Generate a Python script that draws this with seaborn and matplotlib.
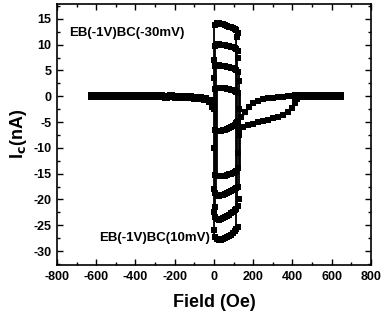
import matplotlib
matplotlib.use("Agg")
import matplotlib.pyplot as plt
import seaborn as sns
from matplotlib.ticker import MultipleLocator

# left branch, I = 0 from -620 Oe up to zero field
left_h = [-620, -595, -570, -545, -520, -495, -470, -445, -420, -395, -370, -345,
          -320, -295, -270, -245, -220, -195, -170, -145, -120, -95, -70, -45, -20, -5]
left_i = [0.1, 0.0, 0.1, 0.0, 0.1, 0.1, 0.0, 0.1, 0.0, 0.0, 0.1, 0.0,
          0.0, 0.0, 0.0, -0.1, 0.0, -0.1, -0.1, -0.1, -0.2, -0.3, -0.4, -0.6, -1.0, -1.8]

# right branch, I = 0 out to 640 Oe
right_h = [420, 445, 470, 495, 520, 545, 570, 595, 620, 640]
right_i = [0.0, 0.0, 0.0, 0.0, 0.0, 0.0, 0.0, 0.0, 0.0, 0.0]

# small loop between 130 and 420 Oe
loop_lo_h = [130, 150, 175, 200, 225, 250, 275, 300, 325, 350, 375, 400, 415, 425]
loop_lo_i = [-6.5, -6.0, -5.6, -5.3, -5.0, -4.8, -4.6, -4.3, -4.0, -3.6, -3.0, -2.2, -1.4, -0.5]
loop_up_h = [425, 400, 375, 350, 325, 300, 275, 250, 225, 200, 180, 160, 140, 120]
loop_up_i = [0.0, 0.0, 0.0, -0.1, -0.2, -0.3, -0.4, -0.6, -0.9, -1.4, -2.1, -3.0, -4.0, -5.0]

# step levels of the loops in the 0..130 Oe window
step_h = [5, 15, 25, 35, 45, 55, 65, 75, 85, 95, 105, 115, 125]
upper_levels = {
    "u1": [13.8, 14.2, 14.1, 14.0, 13.9, 13.8, 13.6, 13.5, 13.4, 13.2, 13.0, 12.8, 12.3],
    "u2": [9.8, 10.1, 10.1, 10.0, 9.9, 9.9, 9.8, 9.7, 9.6, 9.5, 9.3, 9.1, 8.7],
    "u3": [5.8, 6.0, 6.0, 5.9, 5.9, 5.8, 5.7, 5.6, 5.5, 5.4, 5.2, 5.0, 4.6],
    "u4": [1.4, 1.6, 1.6, 1.6, 1.5, 1.5, 1.4, 1.4, 1.3, 1.2, 1.1, 0.9, 0.6],
}
lower_levels = {
    "l1": [-6.6, -6.8, -6.8, -6.7, -6.6, -6.5, -6.4, -6.2, -6.0, -5.8, -5.5, -5.2, -4.8],
    "l2": [-15.2, -15.4, -15.5, -15.5, -15.4, -15.4, -15.3, -15.1, -15.0, -14.8, -14.6, -14.4, -14.0],
    "l3": [-18.8, -19.2, -19.3, -19.2, -19.1, -19.0, -18.8, -18.6, -18.4, -18.2, -18.0, -17.8, -17.5],
    "l4": [-23.5, -23.8, -23.9, -23.8, -23.6, -23.4, -23.2, -23.0, -22.7, -22.4, -22.1, -21.8, -21.3],
    "l5": [-27.2, -27.6, -27.8, -27.8, -27.7, -27.5, -27.3, -27.0, -26.8, -26.5, -26.2, -25.8, -25.3],
}
# vertical switching fields and the range they span
switch_h = [0, 4, 8, 12, 110, 118, 126, 132]
switch_top = [14.0, 10.0, 6.0, 1.5, 12.5, 9.0, 5.0, 1.0]
switch_bot = [-27.5, -23.8, -19.2, -15.4, -25.3, -21.5, -17.5, -14.0]

# scattered points sitting on the switching branches
vert_h = [0, 0, 2, 0, 0, 3, 0, 0, 118, 122, 128, 126, 130, 124, 128]
vert_i = [7.0, 3.5, -2.5, -10.0, -18.0, -21.5, -22.5, -26.0, 11.5, 7.5, 3.0, -2.5, -7.5, -11.0, -20.0]

sns.set_theme(style="ticks")
plt.rcParams["font.family"] = ["Liberation Sans", "DejaVu Sans"]
plt.rcParams["font.weight"] = "bold"
plt.rcParams["axes.unicode_minus"] = False
plt.rcParams["text.color"] = "black"
plt.rcParams["axes.labelcolor"] = "black"

fig = plt.figure(figsize=(3.82, 3.20), dpi=100)
ax = fig.add_axes([0.149, 0.172, 0.822, 0.816])

# switching branches: dotted grey plus solid black
for h, t, b in zip(switch_h, switch_top, switch_bot):
    ax.plot([h, h], [t, b], color="#777777", lw=0.7, ls=":")
    ax.plot([h + 2, h + 2], [t, b], color="black", lw=1.3)

mk = dict(marker="s", markersize=4.6, color="black", lw=2.0,
          markeredgewidth=0)

for vals in upper_levels.values():
    sns.lineplot(x=step_h, y=vals, ax=ax, sort=False, **mk)
for vals in lower_levels.values():
    sns.lineplot(x=step_h, y=vals, ax=ax, sort=False, **mk)

sns.scatterplot(x=vert_h, y=vert_i, ax=ax, marker="s", s=20, color="black", linewidth=0)

sns.lineplot(x=left_h, y=left_i, ax=ax, sort=False, marker="s", markersize=5.2,
             color="black", lw=2.0, markeredgewidth=0)
sns.lineplot(x=right_h, y=right_i, ax=ax, sort=False, marker="s", markersize=5.2,
             color="black", lw=2.0, markeredgewidth=0)
sns.lineplot(x=loop_lo_h, y=loop_lo_i, ax=ax, sort=False, **mk)
sns.lineplot(x=loop_up_h, y=loop_up_i, ax=ax, sort=False, **mk)

ax.set_xlim(-800, 800)
ax.set_ylim(-32.7, 17.9)
ax.xaxis.set_major_locator(MultipleLocator(200))
ax.xaxis.set_minor_locator(MultipleLocator(100))
ax.yaxis.set_major_locator(MultipleLocator(5))
ax.yaxis.set_minor_locator(MultipleLocator(2.5))
ax.tick_params(which="both", direction="in", top=True, right=True, width=1, colors="black")
ax.tick_params(which="major", length=4, labelsize=9, pad=4)
ax.tick_params(which="minor", length=2)
for lab in ax.get_xticklabels() + ax.get_yticklabels():
    lab.set_fontweight("bold")
for s in ax.spines.values():
    s.set_linewidth(1.2)
    s.set_color("black")

ax.set_xlabel("Field (Oe)", fontsize=13, fontweight="bold", labelpad=8)
ax.set_ylabel(r"I$_\mathbf{c}$(nA)", fontsize=13, fontweight="bold", labelpad=3)

ax.text(-740, 12.2, "EB(-1V)BC(-30mV)", fontsize=9.5, fontweight="bold", ha="left", va="center")
ax.text(-20, -27.5, "EB(-1V)BC(10mV)", fontsize=9.5, fontweight="bold", ha="right", va="center")

fig.savefig("out.png", dpi=100)
